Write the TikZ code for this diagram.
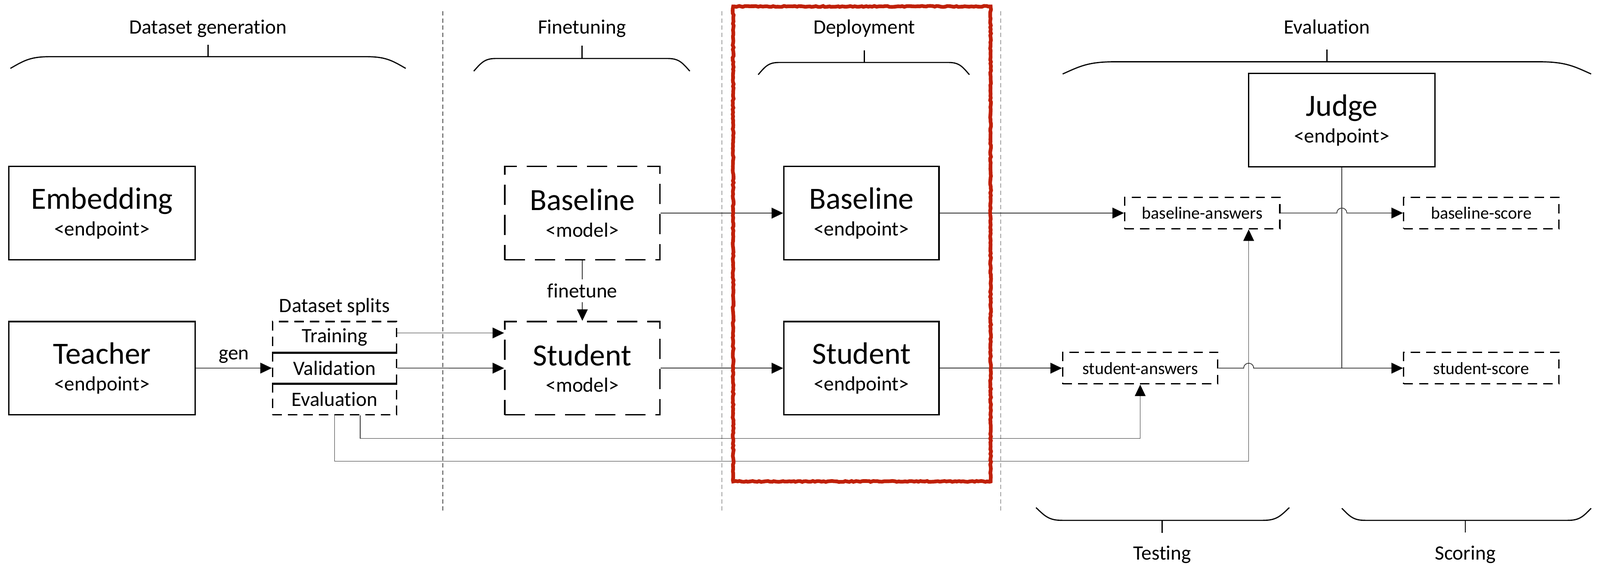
\documentclass[tikz,border=0pt]{standalone}
\usepackage{fontspec}
\setmainfont{Carlito}[Ligatures=NoCommon]
\usetikzlibrary{calc,arrows.meta,decorations.pathmorphing}
\definecolor{markred}{RGB}{192,32,8}
\newcommand{\bigw}{4.56cm}
\newcommand{\midw}{3.8cm}
\newcommand{\boxh}{2.285cm}
\newcommand{\tagw}{3.8cm}
\newcommand{\tagh}{0.77cm}
\newcommand{\splitw}{3.04cm}
\newcommand{\splith}{0.76cm}
\newcommand{\titlef}{\fontsize{21.5}{25}\selectfont}
\newcommand{\subf}{\fontsize{14.2}{18.5}\selectfont}
\tikzstyle{unitbox}=[rectangle, line width=1pt, draw=black, fill=white, minimum width=\bigw, minimum height=\boxh, inner sep=0cm, align=center, font=\subf]
\tikzstyle{endpt}=[unitbox, minimum width=\midw]
\tikzstyle{model}=[unitbox, minimum width=\midw, dash pattern=on 14pt off 7pt]
\tikzstyle{tagbox}=[rectangle, line width=1pt, draw=black, fill=white, dash pattern=on 6.5pt off 4.3pt, minimum width=\tagw, minimum height=\tagh, inner sep=0cm, font=\fontsize{12}{14}\selectfont]
\tikzstyle{splitrow}=[tagbox, minimum width=\splitw, minimum height=\splith, font=\subf]
\tikzstyle{lbl}=[font=\subf, inner sep=0pt, anchor=base]
\tikzstyle{conn}=[line width=0.5pt, draw=black!80]
\tikzstyle{arr}=[conn, -{Triangle[length=8pt,width=7.5pt,color=black]}]
\tikzstyle{curly}=[line width=0.8pt]
\tikzstyle{divider}=[line width=0.4pt, draw=black!70, dash pattern=on 3pt off 2pt]
\tikzstyle{hilite}=[draw=markred, line width=2.6pt, decorate, decoration={random steps, segment length=1.5pt, amplitude=0.35pt}]
% x1, x2, y, curve width, end drop, tick x
\newcommand{\phasebrace}[6]{
  \draw[curly] (#1,{#3+(#5)}) .. controls ({#1+0.35*#4},{#3+0.3*(#5)}) and ({#1+0.5*#4},#3) .. ({#1+#4},#3) -- ({#2-#4},#3) .. controls ({#2-0.5*#4},#3) and ({#2-0.35*#4},{#3+0.3*(#5)}) .. (#2,{#3+(#5)});
  \draw[curly] (#6,#3) -- (#6,{#3-(#5)});
}
\newcommand{\hopline}[3]{\draw[arr] (#1) -- ($(#3)+(-4.85,0)$) .. controls ($(#3)+(-4.85,-6.47)$) and ($(#3)+(4.85,-6.47)$) .. ($(#3)+(4.85,0)$) -- (#2);}

\begin{document}
\begin{tikzpicture}[x=0.025cm, y=-0.025cm]
 \useasboundingbox (0,0) rectangle (1568,573);

 \foreach \sx in {434,707.4,980.7}
   \draw[divider] (\sx,11) -- (\sx,500);

 \node[lbl] (tgen) at (203.9,33) {Dataset generation};
 \node[lbl] (tfine) at (570.3,33) {Finetuning};
 \node[lbl] (tdep) at (847,33) {Deployment};
 \node[lbl] (teval) at (1300.5,33) {Evaluation};
 \node[lbl] (ttest) at (1139,548.6) {Testing};
 \node[lbl] (tscore) at (1436,548.6) {Scoring};

 \phasebrace{10.2}{397.6}{55.5}{39.7}{11.5}{203.9}
 \phasebrace{464.3}{676}{57.3}{21.8}{12.4}{570.3}
 \phasebrace{743}{950}{61.2}{20.5}{12}{847}
 \phasebrace{1041.4}{1559.3}{60.5}{52.5}{12}{1300.5}
 \phasebrace{1015.3}{1263.5}{509.8}{25.8}{-12.5}{1139}
 \phasebrace{1315}{1559.3}{509.8}{23}{-11.8}{1436}

 \node[unitbox] (embed) at (100,208.8) {{\titlef Embedding}\\<endpoint>};
 \node[unitbox] (teacher) at (100,360.7) {{\titlef Teacher}\\<endpoint>};
 \node[model] (bmodel) at (570.7,208.8) {{\titlef Baseline}\\<model>};
 \node[model] (smodel) at (570.7,360.7) {{\titlef Student}\\<model>};
 \node[endpt] (bendpt) at (844.2,208.8) {{\titlef Baseline}\\<endpoint>};
 \node[endpt] (sendpt) at (844.2,360.7) {{\titlef Student}\\<endpoint>};
 \node[unitbox] (judge) at (1315,117.7) {{\titlef Judge}\\<endpoint>};

 \node[tagbox] (banswers) at (1178.2,208.7) {baseline-answers};
 \node[tagbox] (bscore) at (1451.6,208.7) {baseline-score};
 \node[tagbox] (sanswers) at (1117.4,360.7) {student-answers};
 \node[tagbox] (sscore) at (1451.6,360.7) {student-score};

 \node[lbl] (splitlbl) at (327.9,306) {Dataset splits};
 \foreach \nm/\tx [count=\i] in {train/Training, valid/Validation, eval/Evaluation}
   \node[splitrow] (\nm) at (327.9,{299.8+30.4*\i}) {\tx};
 \draw[line width=1pt] (train.south west) -- (train.south east);
 \draw[line width=1pt] (valid.south west) -- (valid.south east);

 \draw[arr] (teacher) -- node[lbl, yshift=0.21cm] {gen} (valid);
 \draw[arr] ([yshift=0.1cm]train.east) -- ([yshift=0.1cm]train.east -| smodel.west);
 \draw[arr] (valid) -- (smodel);
 \draw[arr] (bmodel) -- node[lbl, anchor=center, fill=white, inner sep=3pt] {finetune} (smodel);
 \draw[arr] (bmodel) -- (bendpt);
 \draw[arr] (smodel) -- (sendpt);
 \draw[arr] (bendpt) -- (banswers);
 \draw[arr] (sendpt) -- (sanswers);

 \coordinate (railtop) at ($(banswers.south)+(45.5,0)$);
 \coordinate (hopb) at (judge.south |- banswers.east);
 \coordinate (hops) at (railtop |- sanswers.east);
 \draw[arr] ([xshift=0.625cm]eval.south) -- ++(0,22.6) -| (sanswers.south);
 \draw[arr] (eval.south) -- ++(0,45) -| (railtop);
 \hopline{banswers.east}{bscore.west}{hopb}
 \hopline{sanswers.east}{sscore.west}{hops}
 \draw[conn] (judge.south) -- (judge.south |- sscore.west);

 \draw[hilite] (718.5,6.3) rectangle (970.8,471.7);

\end{tikzpicture}
\end{document}
